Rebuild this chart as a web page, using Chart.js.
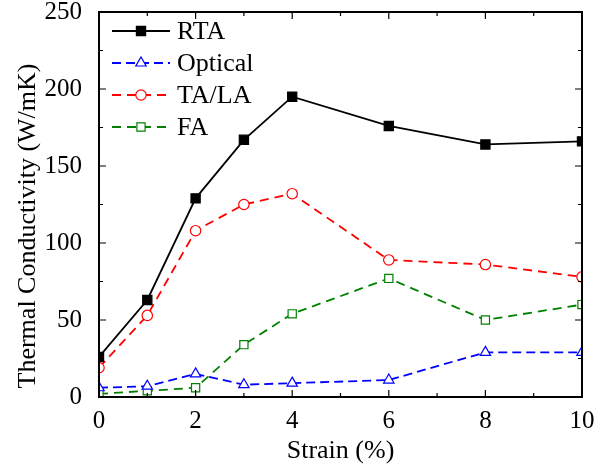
<!DOCTYPE html>
<html>
<head>
<meta charset="utf-8">
<script src="https://cdn.jsdelivr.net/npm/chart.js@4"></script>
<style>
  html, body { margin: 0; padding: 0; background: #fff; }
  #wrap { width: 607px; height: 468px; }
</style>
</head>
<body>
<div id="wrap"><canvas id="chart" width="607" height="468"></canvas></div>
<script>
const strain = [0, 1, 2, 3, 4, 6, 8, 10]
const rta = [26, 63, 129, 167, 195, 176, 164, 166]
const optical = [6, 7, 15, 8, 9, 11, 29, 29]
const talA = [19, 53, 108, 125, 132, 89, 86, 78]
const fa = [2, 4, 6, 34, 54, 77, 50, 60]
const xTicks = [0, 2, 4, 6, 8, 10]
const yTicks = [0, 50, 100, 150, 200, 250]
const yTitle = 'Thermal Conductivity (W/mK)'

const serif = "'Liberation Serif', 'Times New Roman', serif"

function pts(ys) {
  return strain.map((x, i) => ({ x: x, y: ys[i] }))
}

function series(label, ys, color, style, radius, filled, dash) {
  return {
    label: label,
    data: pts(ys),
    borderColor: color,
    borderWidth: 1.8,
    borderDash: dash,
    pointStyle: style,
    pointRadius: radius,
    pointBorderWidth: 1.2,
    pointBackgroundColor: filled ? color : '#fff',
    pointBorderColor: color,
    tension: 0
  }
}

// frame, inward ticks, y title and the legend in the upper left corner
const framePlugin = {
  id: 'frame',
  afterDraw(chart) {
    const ctx = chart.ctx
    const a = chart.chartArea
    const xs = chart.scales.x, ys = chart.scales.y
    ctx.save()
    ctx.strokeStyle = '#000'
    ctx.lineWidth = 2
    ctx.strokeRect(a.left, a.top, a.right - a.left, a.bottom - a.top)
    ctx.lineWidth = 1.2
    for (let v = 0; v <= 10; v += 1) {
      const px = xs.getPixelForValue(v)
      const len = v % 2 === 0 ? 7 : 4
      ctx.beginPath()
      ctx.moveTo(px, a.bottom); ctx.lineTo(px, a.bottom - len)
      ctx.moveTo(px, a.top); ctx.lineTo(px, a.top + len)
      ctx.stroke()
    }
    for (let v = 0; v <= 250; v += 25) {
      const py = ys.getPixelForValue(v)
      const len = v % 50 === 0 ? 7 : 4
      ctx.beginPath()
      ctx.moveTo(a.left, py); ctx.lineTo(a.left + len, py)
      ctx.moveTo(a.right, py); ctx.lineTo(a.right - len, py)
      ctx.stroke()
    }

    // y axis title, sits a bit below the middle of the plot like the original
    ctx.save()
    ctx.translate(28, 226)
    ctx.rotate(-Math.PI / 2)
    ctx.fillStyle = '#000'
    ctx.font = '26px ' + serif
    ctx.textAlign = 'center'
    ctx.textBaseline = 'middle'
    ctx.fillText(yTitle, 0, 0)
    ctx.restore()

    // legend
    const rowY = [31, 63, 95, 127]
    chart.data.datasets.forEach((ds, i) => {
      const y = rowY[i]
      ctx.strokeStyle = ds.borderColor
      ctx.lineWidth = ds.borderWidth
      ctx.setLineDash(ds.borderDash || [])
      ctx.beginPath()
      ctx.moveTo(112, y); ctx.lineTo(170, y)
      ctx.stroke()
      ctx.setLineDash([])
      ctx.fillStyle = ds.pointBackgroundColor
      ctx.lineWidth = ds.pointBorderWidth
      Chart.helpers.drawPoint(ctx, {
        pointStyle: ds.pointStyle,
        radius: ds.pointRadius,
        borderWidth: ds.pointBorderWidth,
        rotation: 0
      }, 141, y)
      ctx.fillStyle = '#000'
      ctx.font = '26px ' + serif
      ctx.textBaseline = 'middle'
      ctx.fillText(ds.label, 177, y + 1)
    })
    ctx.restore()
  }
}

const config = {
  type: 'line',
  data: {
    datasets: [
      series('RTA', rta, '#000000', 'rect', 6.5, true, []),
      series('Optical', optical, '#0000ff', 'triangle', 6, false, [9, 5]),
      series('TA/LA', talA, '#ff0000', 'circle', 5.2, false, [9, 6]),
      series('FA', fa, '#008000', 'rect', 5.8, false, [9, 6])
    ]
  },
  options: {
    responsive: false,
    animation: false,
    layout: { padding: { top: 12, right: 25, left: 0, bottom: 0 } },
    plugins: {
      legend: { display: false },
      tooltip: { enabled: false }
    },
    scales: {
      x: {
        type: 'linear',
        min: 0,
        max: 10,
        afterBuildTicks: s => { s.ticks = xTicks.map(v => ({ value: v })) },
        afterFit: s => { s.height = 71; s.paddingLeft = 0; s.paddingRight = 0 },
        grid: { display: false },
        border: { display: false },
        ticks: { color: '#000', font: { family: serif, size: 25 }, padding: 1, maxRotation: 0 },
        title: { display: true, text: 'Strain (%)', color: '#000', font: { family: serif, size: 26 }, padding: { top: 4, bottom: 1 } }
      },
      y: {
        min: 0,
        max: 250,
        afterBuildTicks: s => { s.ticks = yTicks.map(v => ({ value: v })) },
        afterFit: s => { s.width = 99; s.paddingTop = 0; s.paddingBottom = 0 },
        grid: { display: false },
        border: { display: false },
        ticks: { color: '#000', font: { family: serif, size: 25 }, padding: 9 },
        title: { display: false }
      }
    }
  },
  plugins: [framePlugin]
}

new Chart(document.getElementById('chart'), config)
</script>
</body>
</html>
